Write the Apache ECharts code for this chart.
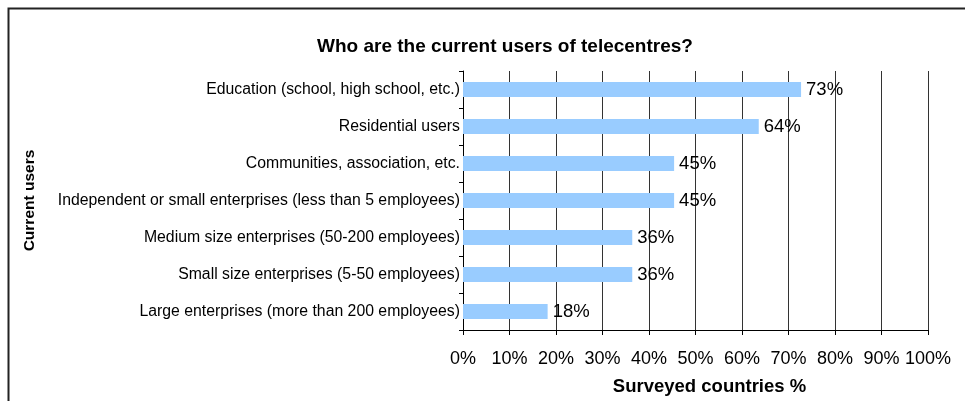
<!DOCTYPE html>
<html><head><meta charset="utf-8">
<script src="https://cdn.jsdelivr.net/npm/echarts@6/dist/echarts.min.js"></script>
<style>html,body{margin:0;padding:0;background:#fff}#c{width:965px;height:401px}</style>
</head><body><div id="c"></div>
<script>
const categories = [
  "Large enterprises (more than 200 employees)",
  "Small size enterprises (5-50 employees)",
  "Medium size enterprises (50-200 employees)",
  "Independent or small enterprises (less than 5 employees)",
  "Communities, association, etc.",
  "Residential users",
  "Education (school, high school, etc.)"
];
const values = [18.2, 36.4, 36.4, 45.4, 45.4, 63.6, 72.7];
const xTicks = [0, 10, 20, 30, 40, 50, 60, 70, 80, 90, 100];
const titleText = "Who are the current users of telecentres?";
const xName = "Surveyed countries %";
const yName = "Current users";

const font = "Arial, 'Liberation Sans', sans-serif";
const chart = echarts.init(document.getElementById('c'), null, {renderer: 'canvas'});
chart.setOption({
  animation: false,
  backgroundColor: '#fff',
  graphic: [{
    type: 'rect', shape: {x: 8.5, y: 8.5, width: 1000, height: 500},
    style: {fill: 'none', stroke: '#222', lineWidth: 2}, silent: true
  }],
  title: {
    text: titleText, left: 500, top: 32, textAlign: 'center',
    textStyle: {fontFamily: font, fontSize: 19, fontWeight: 'bold', color: '#000'}
  },
  grid: {left: 463, right: 37, top: 71, bottom: 71, containLabel: false},
  xAxis: {
    type: 'value', min: 0, max: 100, interval: 10,
    name: xName, nameLocation: 'middle', nameGap: 47,
    nameTextStyle: {fontFamily: font, fontSize: 18.5, fontWeight: 'bold', color: '#000', padding: [0, 0, 0, 28]},
    axisLine: {show: true, lineStyle: {color: '#000', width: 1}},
    axisTick: {show: true, length: 5, lineStyle: {color: '#000'}},
    axisLabel: {fontFamily: font, fontSize: 18, color: '#000', margin: 20,
      formatter: v => xTicks.includes(v) ? v + '%' : ''},
    splitLine: {show: true, lineStyle: {color: '#333', width: 1}}
  },
  yAxis: {
    type: 'category', data: categories,
    name: yName, nameLocation: 'middle', nameGap: 425, nameRotate: 90,
    nameTextStyle: {fontFamily: font, fontSize: 15.5, fontWeight: 'bold', color: '#000'},
    axisLine: {show: true, lineStyle: {color: '#000', width: 1}},
    axisTick: {show: true, length: 4, lineStyle: {color: '#000'}},
    axisLabel: {fontFamily: font, fontSize: 15.8, color: '#000', margin: 3},
    splitLine: {show: false}
  },
  series: [{
    type: 'bar', data: values, barWidth: 15,
    itemStyle: {color: '#99CCFF'},
    label: {show: true, position: 'right', distance: 5,
      fontFamily: font, fontSize: 18.5, color: '#000',
      formatter: p => Math.round(p.value) + '%'}
  }]
});
</script></body></html>
